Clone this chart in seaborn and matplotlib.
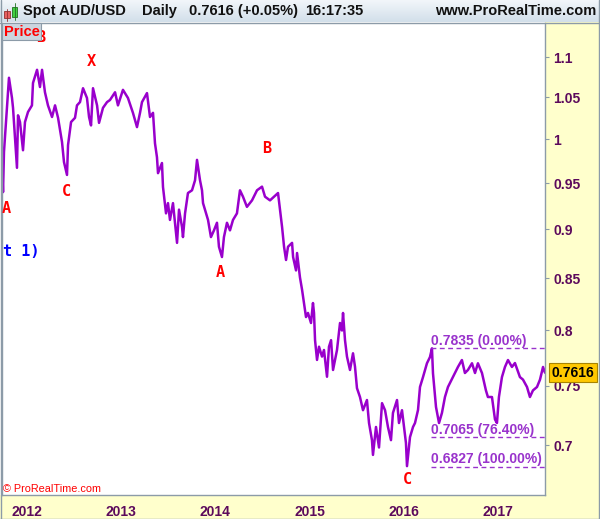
import numpy as np
import matplotlib
matplotlib.use("Agg")
import matplotlib.pyplot as plt
import matplotlib.ticker as mticker
from matplotlib.patches import Rectangle
from matplotlib.lines import Line2D
from matplotlib.transforms import blended_transform_factory
import seaborn as sns

sns.set_style("white")
plt.rcParams["font.family"] = ["Liberation Sans", "DejaVu Sans"]

# ── Data ─────────────────────────────────────────────────────
years = [
    2011.735, 2011.746, 2011.756, 2011.777, 2011.809, 2011.841, 2011.852, 2011.873,
    2011.894, 2011.905, 2011.926, 2011.958, 2011.979, 2012.011, 2012.053, 2012.064,
    2012.107, 2012.138, 2012.160, 2012.191, 2012.223, 2012.266, 2012.298, 2012.330,
    2012.372, 2012.393, 2012.425, 2012.436, 2012.468, 2012.510, 2012.531, 2012.563,
    2012.595, 2012.637, 2012.659, 2012.680, 2012.701, 2012.744, 2012.765, 2012.807,
    2012.850, 2012.881, 2012.935, 2012.966, 2013.019, 2013.072, 2013.125, 2013.168,
    2013.200, 2013.221, 2013.274, 2013.306, 2013.338, 2013.359, 2013.380, 2013.391,
    2013.433, 2013.444, 2013.476, 2013.497, 2013.518, 2013.550, 2013.593, 2013.614,
    2013.646, 2013.656, 2013.678, 2013.709, 2013.752, 2013.784, 2013.805, 2013.837,
    2013.858, 2013.869, 2013.901, 2013.922, 2013.953, 2013.985, 2014.017, 2014.038,
    2014.070, 2014.091, 2014.123, 2014.155, 2014.187, 2014.229, 2014.261, 2014.293,
    2014.335, 2014.389, 2014.442, 2014.495, 2014.527, 2014.580, 2014.665, 2014.686,
    2014.708, 2014.729, 2014.750, 2014.771, 2014.814, 2014.825, 2014.856, 2014.867,
    2014.898, 2014.920, 2014.941, 2014.962, 2014.983, 2015.015, 2015.036, 2015.047,
    2015.058, 2015.079, 2015.100, 2015.132, 2015.153, 2015.185, 2015.206, 2015.228,
    2015.249, 2015.291, 2015.323, 2015.344, 2015.355, 2015.376, 2015.397, 2015.429,
    2015.461, 2015.482, 2015.503, 2015.535, 2015.567, 2015.609, 2015.631, 2015.662,
    2015.673, 2015.705, 2015.737, 2015.769, 2015.801, 2015.832, 2015.864, 2015.885,
    2015.928, 2015.949, 2015.981, 2016.002, 2016.023, 2016.034, 2016.066, 2016.098,
    2016.119, 2016.151, 2016.172, 2016.204, 2016.246, 2016.278, 2016.299, 2016.310,
    2016.342, 2016.374, 2016.405, 2016.437, 2016.469, 2016.522, 2016.575, 2016.617,
    2016.649, 2016.681, 2016.724, 2016.756, 2016.787, 2016.830, 2016.872, 2016.893,
    2016.936, 2016.968, 2016.989, 2017.010, 2017.042, 2017.074, 2017.106, 2017.148,
    2017.180, 2017.233, 2017.265, 2017.308, 2017.339, 2017.371, 2017.414, 2017.446,
    2017.478, 2017.499,
]
price = [
    0.9720, 0.9400, 0.9850, 1.0200, 1.0740, 1.0490, 1.0370, 1.0010,
    0.9670, 1.0280, 1.0200, 0.9870, 1.0200, 1.0320, 1.0400, 1.0675,
    1.0840, 1.0625, 1.0840, 1.0560, 1.0400, 1.0260, 1.0400, 1.0250,
    0.9965, 0.9735, 0.9590, 0.9930, 1.0200, 1.0250, 1.0400, 1.0440,
    1.0610, 1.0490, 1.0260, 1.0160, 1.0610, 1.0400, 1.0190, 1.0370,
    1.0440, 1.0465, 1.0560, 1.0400, 1.0590, 1.0490, 1.0310, 1.0140,
    1.0310, 1.0440, 1.0550, 1.0260, 1.0310, 0.9950, 0.9790, 0.9610,
    0.9724, 0.9456, 0.9170, 0.9280, 0.9100, 0.9280, 0.8860, 0.9210,
    0.9025, 0.8920, 0.9170, 0.9390, 0.9420, 0.9530, 0.9760, 0.9530,
    0.9420, 0.9280, 0.9170, 0.9100, 0.8920, 0.8990, 0.9070, 0.8820,
    0.8715, 0.8920, 0.9070, 0.8990, 0.9100, 0.9170, 0.9420, 0.9350,
    0.9240, 0.9310, 0.9420, 0.9460, 0.9350, 0.9310, 0.9390, 0.9210,
    0.9025, 0.8820, 0.8685, 0.8820, 0.8860, 0.8715, 0.8580, 0.8756,
    0.8510, 0.8390, 0.8260, 0.8126, 0.8165, 0.8070, 0.8260, 0.8165,
    0.7910, 0.7730, 0.7850, 0.7760, 0.7820, 0.7580, 0.7850, 0.7910,
    0.7640, 0.7820, 0.8070, 0.8000, 0.8165, 0.7910, 0.7760, 0.7640,
    0.7790, 0.7670, 0.7480, 0.7403, 0.7290, 0.7377, 0.7182, 0.7041,
    0.6920, 0.7149, 0.6980, 0.7350, 0.7290, 0.7149, 0.7040, 0.7267,
    0.7377, 0.7182, 0.7290, 0.7149, 0.7017, 0.6830, 0.7065, 0.7149,
    0.7182, 0.7292, 0.7490, 0.7577, 0.7700, 0.7756, 0.7835, 0.7610,
    0.7317, 0.7182, 0.7267, 0.7403, 0.7490, 0.7577, 0.7667, 0.7729,
    0.7613, 0.7640, 0.7700, 0.7613, 0.7700, 0.7613, 0.7460, 0.7403,
    0.7403, 0.7212, 0.7182, 0.7403, 0.7577, 0.7667, 0.7729, 0.7667,
    0.7702, 0.7577, 0.7555, 0.7490, 0.7403, 0.7460, 0.7490, 0.7555,
    0.7667, 0.7616,
]

y_ticks = [1.1, 1.05, 1.0, 0.95, 0.9, 0.85, 0.8, 0.75, 0.7]
y_tick_labels = ["1.1", "1.05", "1", "0.95", "0.9", "0.85", "0.8", "0.75", "0.7"]
x_ticks = [2012, 2013, 2014, 2015, 2016, 2017]
x_tick_labels = ["2012", "2013", "2014", "2015", "2016", "2017"]

fib_levels = [0.7835, 0.7065, 0.6827]
fib_labels = ["0.7835 (0.00%)", "0.7065 (76.40%)", "0.6827 (100.00%)"]
fib_start = 2016.29

wave_text = ["B", "X", "C", "A", "B", "A", "C"]
wave_x = [2012.150, 2012.685, 2012.414, 2011.777, 2014.548, 2014.049, 2016.034]
wave_y = [1.1256, 1.0952, 0.9406, 0.9222, 0.9890, 0.8564, 0.6728]

last_price = 0.7616

# ── Figure layout ────────────────────────────────────────────
W, H = 600, 519
fig = plt.figure(figsize=(W / 100, H / 100), dpi=100)
fig.patch.set_facecolor("white")

def fx(px):
    return px / W

def fy(py):
    return 1 - py / H

CREAM = "#FFFFCC"
BORDER = "#8C9BA8"
TICK_C = "#5C0A5C"
LINE_C = "#9900CC"
FIB_C = "#9933CC"

fig.add_artist(Rectangle((fx(545), 0), 1 - fx(545), fy(22), transform=fig.transFigure,
                         facecolor=CREAM, edgecolor="none", zorder=-2))
fig.add_artist(Rectangle((0, 0), fx(545), fy(495), transform=fig.transFigure,
                         facecolor=CREAM, edgecolor="none", zorder=-2))

# main chart
ax = fig.add_axes([fx(2), fy(495), fx(545) - fx(2), fy(23) - fy(495)])
ax.set_facecolor("white")
sns.lineplot(x=years, y=price, ax=ax, color=LINE_C, linewidth=1.8,
             estimator=None, sort=False)
ax.set_yscale("log")
ax.set_ylim(0.6604, 1.1448)
ax.set_xlim(2011.735, 2017.499)

ax.yaxis.tick_right()
ax.set_yticks(y_ticks)
ax.set_yticklabels(y_tick_labels)
ax.yaxis.set_minor_locator(mticker.NullLocator())
ax.set_xticks(x_ticks)
ax.set_xticklabels(x_tick_labels)
ax.tick_params(axis="y", direction="out", length=3, width=0.8, color=BORDER,
               pad=3, labelsize=10, labelcolor=TICK_C)
ax.tick_params(axis="x", direction="out", length=3, width=0.8, color=BORDER,
               pad=4, labelsize=10, labelcolor=TICK_C)
for lbl in ax.get_xticklabels() + ax.get_yticklabels():
    lbl.set_fontweight("bold")
ax.set_xlabel("")
ax.set_ylabel("")
ax.spines["top"].set_visible(False)
for s in ["left", "right", "bottom"]:
    ax.spines[s].set_color(BORDER)
    ax.spines[s].set_linewidth(1)

# fibonacci levels
ax.hlines(fib_levels, fib_start, 2017.499, colors=FIB_C, linestyles=(0, (3.5, 2.5)),
          linewidth=1)
for lvl, lbl in zip(fib_levels, fib_labels):
    ax.annotate(lbl, (fib_start, lvl), xytext=(0, 2.4), textcoords="offset points",
                ha="left", va="baseline", fontsize=10, fontweight="bold", color=FIB_C)

# wave labels
for t, x, y in zip(wave_text, wave_x, wave_y):
    ax.text(x, y, t, ha="center", va="center", color="#FF0000", fontsize=11,
            fontweight="bold", family="DejaVu Sans Mono")
ax.text(2011.746, 0.8771, "t 1)", ha="left", va="center", color="#0000FF",
        fontsize=11, fontweight="bold", family="DejaVu Sans Mono")

# last price box
trans = blended_transform_factory(ax.transAxes, ax.transData)
ax.text(1.0125, last_price, "0.7616", transform=trans, ha="left", va="center",
        fontsize=10, fontweight="bold", color="black", zorder=10, clip_on=False,
        bbox=dict(boxstyle="square,pad=0.18", fc="#FFC800", ec="#A88400", lw=0.8))

# header bar
hax = fig.add_axes([0, fy(22), 1, 22 / H])
grad = np.linspace(0, 1, 50).reshape(-1, 1)
hax.imshow(grad, extent=[0, 600, 22, 0], aspect="auto",
           cmap=matplotlib.colors.LinearSegmentedColormap.from_list("hdr", ["#F2F6FA", "#D2DFEA"]))
hax.set_xlim(0, 600)
hax.set_ylim(22, 0)
hax.axis("off")
hax.add_patch(Rectangle((3.5, 11.5), 6, 7, facecolor="#E86060", edgecolor="#903030", lw=0.6))
hax.plot([6.5, 6.5], [9, 21], color="#903030", lw=0.6)
hax.add_patch(Rectangle((12, 7), 5, 10, facecolor="#40D040", edgecolor="#207020", lw=0.6))
hax.plot([14.5, 14.5], [3, 20], color="#207020", lw=0.6)
hdr = dict(fontsize=10.5, fontweight="bold", color="#111111", va="center")
hax.text(23, 11.5, "Spot AUD/USD", ha="left", **hdr)
hax.text(142, 11.5, "Daily", ha="left", **hdr)
hax.text(189, 11.5, "0.7616 (+0.05%)", ha="left", **hdr)
hax.text(305, 11.5, "16:17:35", ha="left", **hdr)
hax.text(596, 11.5, "www.ProRealTime.com", ha="right", **hdr)
fig.add_artist(Line2D([0, 1], [fy(22.5), fy(22.5)], transform=fig.transFigure,
                      color=BORDER, lw=1, zorder=4))

# "Price" tab
fig.add_artist(Rectangle((fx(2), fy(40)), fx(41) - fx(2), fy(23) - fy(40),
                         transform=fig.transFigure, facecolor="#CBD5DE",
                         edgecolor=BORDER, lw=0.8, zorder=5))
fig.text(fx(4), fy(31.5), "Price", ha="left", va="center", color="#FF0000",
         fontsize=10.5, fontweight="bold", zorder=6)

fig.text(fx(3), fy(489), "\u00a9 ProRealTime.com", ha="left", va="center",
         color="#FF0000", fontsize=7.8)

# outer border
for xs, ys in [([0, 1], [fy(518.5)] * 2), ([fx(598.5)] * 2, [0, 1]),
               ([fx(0.5)] * 2, [0, 1])]:
    fig.add_artist(Line2D(xs, ys, transform=fig.transFigure, color=BORDER, lw=1, zorder=4))

fig.savefig("out.png", dpi=100)
